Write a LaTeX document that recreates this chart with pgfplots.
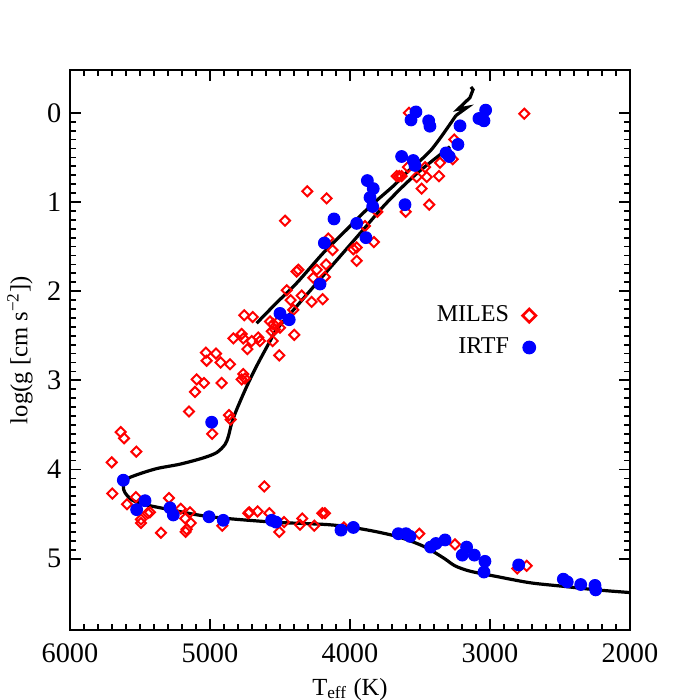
\documentclass[border=0pt]{standalone}
\usepackage{fontspec}
\setmainfont{Liberation Serif}
\usepackage{pgfplots}
\pgfplotsset{compat=1.18}
\definecolor{milescol}{RGB}{255,0,0}
\definecolor{irtfcol}{RGB}{0,0,255}

\begin{document}
\begin{tikzpicture}
\begin{axis}[name=ax, scale only axis, width=8cm, height=8cm,
  x dir=reverse, y dir=reverse,
  xmin=2000, xmax=6000, ymin=-0.48, ymax=5.8,
  xtick={2000,3000,4000,5000,6000}, ytick={0,1,2,3,4,5},
  minor x tick num=9, minor y tick num=9,
  tick align=inside, major tick length=4.4pt, minor tick length=2.4pt,
  axis line style={line width=0.7pt}, every tick/.style={black, line width=0.7pt},
  xticklabel style={yshift=-2pt},
  /pgf/number format/assume math mode=true,
  /pgf/number format/1000 sep={},
  tick label style={font=\fontsize{11.5}{13}\selectfont},
  label style={font=\fontsize{12.6}{14}\selectfont},
  xlabel={T\textsubscript{eff} (K)}, ylabel={log(g [cm s\textsuperscript{−2}])},
  every axis x label/.style={at={(axis description cs:0.5,-0.1165)}, anchor=base},
  every axis y label/.style={at={(axis description cs:-0.0893,0.5)}, rotate=90, anchor=center},
  legend plot pos=right, legend cell align=right,
  legend style={draw=none, fill=none, at={(axis description cs:0.846,0.533)}, anchor=east,
    font=\fontsize{9.8}{11}\selectfont, row sep=1pt, column sep=3.5pt},
]
% isochrone: main sequence, subgiant and red giant branch
\addplot[black, line width=1.3pt, smooth, tension=0.5, forget plot] coordinates {
(2000,5.38) (2238,5.35) (2476,5.31) (2714,5.27) (2952,5.20) (3143,5.14) (3250,5.08)
(3334,4.99) (3476,4.86) (3667,4.75) (3905,4.67) (4143,4.62) (4548,4.59) (5000,4.53)
(5286,4.45) (5476,4.39) (5559,4.34) (5607,4.26) (5619,4.19) (5595,4.11) (5524,4.06)
(5381,3.99) (5214,3.94) (5048,3.87) (4952,3.81) (4893,3.72) (4869,3.63) (4845,3.48)
(4810,3.33) (4738,3.07) (4667,2.84) (4571,2.56) (4524,2.43) (4381,2.17) (4238,1.91)
(4071,1.61) (3905,1.31) (3762,1.05) (3619,0.82) (3500,0.65) (3357,0.47) (3286,0.38)
};
% AGB
\addplot[black, line width=1.3pt, smooth, tension=0.5, forget plot] coordinates {
(4667,2.36) (4524,2.13) (4381,1.91) (4190,1.57) (4024,1.31) (3857,1.05) (3690,0.82)
(3595,0.67) (3417,0.41) (3243,0.03)
};
\addplot[black, line width=1.3pt, forget plot] coordinates {
(3243,0.03) (3164,-0.06) (3229,-0.04) (3143,-0.17) (3121,-0.26) (3136,-0.29)
};
% MILES
\addplot[only marks, mark=square, mark size=1.45pt, mark options={rotate=45, milescol, line width=0.8pt, fill=none},
  legend image post style={mark size=1.9pt, mark options={rotate=45, milescol, line width=1.1pt}}] coordinates {
(3579,0.00) (2755,0.01) (3255,0.30) (3266,0.52) (3357,0.56) (3464,0.61) (3586,0.61)
(3524,0.72) (3452,0.72) (3364,0.71) (3666,0.71) (3648,0.71) (3631,0.71) (3488,0.85)
(3434,1.03) (3602,1.11) (3805,1.11) (3893,1.27) (3829,1.45) (4305,0.88) (4167,0.96)
(4464,1.21) (3976,1.53) (3952,1.51) (3952,1.66) (4124,1.54) (4155,1.41) (4369,1.76)
(4381,1.78) (4238,1.76) (4171,1.70) (4262,1.85) (4179,1.84) (4452,1.99) (4345,2.05)
(4424,2.10) (4274,2.12) (4195,2.09) (4405,2.21) (4755,2.27) (4695,2.29) (4571,2.34)
(4548,2.37) (4519,2.35) (4500,2.41) (4536,2.43) (4559,2.45) (4398,2.49) (4833,2.53)
(4774,2.48) (4762,2.53) (4702,2.56) (4655,2.52) (4643,2.56) (4733,2.65) (4552,2.56)
(4505,2.72) (5029,2.69) (4957,2.70) (5024,2.78) (4924,2.80) (4857,2.82) (4762,2.93)
(4750,2.98) (4774,2.99) (5095,2.99) (5043,3.03) (4917,3.03) (5107,3.13) (5150,3.35)
(4864,3.39) (4852,3.44) (4984,3.60) (5638,3.58) (5614,3.65) (5526,3.80) (5702,3.92)
(5698,4.27) (5593,4.39) (5529,4.31) (5493,4.56) (5493,4.60) (5445,4.49) (5429,4.48)
(5350,4.71) (5293,4.32) (5209,4.44) (5176,4.55) (5143,4.48) (5138,4.60) (5167,4.67)
(5174,4.70) (4612,4.19) (4912,4.63) (4726,4.49) (4719,4.48) (4660,4.47) (4576,4.49)
(4505,4.70) (4471,4.59) (4357,4.62) (4341,4.55) (4255,4.63) (4198,4.49) (4179,4.49)
(4043,4.65) (3505,4.72) (3250,4.84) (2805,5.11) (2738,5.08)
};
% IRTF
\addplot[only marks, mark=*, mark size=2.4pt, mark options={irtfcol, draw=none, fill=irtfcol},
  legend image post style={mark size=2.6pt}] coordinates {
(3529,-0.01) (3564,0.08) (3438,0.09) (3429,0.15) (3214,0.146) (3031,-0.03) (3079,0.064)
(3043,0.09) (3229,0.355) (3314,0.45) (3291,0.49) (3631,0.49) (3548,0.535) (3536,0.59)
(3876,0.76) (3834,0.85) (3857,0.95) (3838,1.05) (3607,1.03) (3886,1.40) (4114,1.19)
(3952,1.24) (4183,1.46) (4214,1.92) (4500,2.25) (4434,2.32) (4988,3.47) (5619,4.12)
(5524,4.45) (5464,4.35) (5286,4.43) (5262,4.51) (5007,4.53) (4905,4.57) (4560,4.57)
(4529,4.59) (4064,4.68) (3976,4.65) (3655,4.72) (3600,4.72) (3571,4.75) (3424,4.87)
(3386,4.83) (3321,4.79) (3198,4.96) (3167,4.87) (3112,4.96) (3036,5.03) (3043,5.15)
(2795,5.07) (2476,5.23) (2448,5.26) (2352,5.29) (2250,5.30) (2245,5.35)
};
\legend{MILES, IRTF}
\end{axis}
\pgfresetboundingbox
\path[use as bounding box] ([shift={(-1cm,-1cm)}]ax.south west) rectangle ([shift={(1cm,1cm)}]ax.north east);
\end{tikzpicture}
\end{document}
